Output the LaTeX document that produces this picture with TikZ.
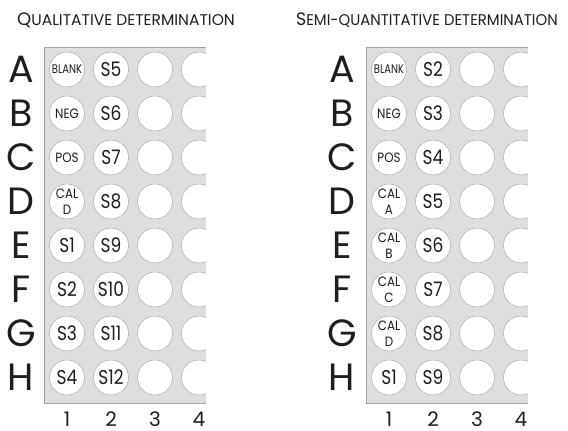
\documentclass[tikz,border=0pt]{standalone}
\usepackage{fontspec}
\setmainfont{Poppins}
\definecolor{plategray}{RGB}{221,222,224}
\definecolor{wellgray}{RGB}{170,170,170}
\definecolor{edgegray}{RGB}{165,165,165}
\definecolor{ink}{RGB}{30,30,30}
\newcommand\smt[1]{\scalebox{0.88}[1]{#1}}
\newcommand\blk[1]{{\fontsize{12.5}{16}\selectfont\scalebox{0.8}[1]{#1}}}
\newcommand\bgt[1]{{\fontsize{20}{20}\selectfont\scalebox{0.85}[1]{#1}}}
\newcommand\ttl[2]{{\fontsize{18}{18}\selectfont #1}{\fontsize{15.5}{15.5}\selectfont #2}}
\begin{document}
\begin{tikzpicture}[x=1pt,y=-1pt,
  well/.style={circle, draw=wellgray, line width=0.5pt, fill=white, minimum size=35pt,
    inner sep=0pt, align=center, text=ink, font=\fontsize{13.5}{16}\selectfont},
  rowlab/.style={font=\fontsize{38}{38}\selectfont, text=ink, anchor=center},
  collab/.style={font=\fontsize{20}{20}\selectfont, text=ink, anchor=center, inner sep=0pt},
  titlab/.style={anchor=base west, text=ink, inner sep=0pt},
  plateedge/.style={draw=edgegray, line width=0.6pt}
]
\useasboundingbox (0,0) rectangle (568,431);
% titles
\node[titlab] (t1) at (17,25) {\ttl{Q}{UALITATIVE DETERMINATION}};
\node[titlab] (t2) at (296,25) {\scalebox{0.96}[1]{\ttl{S}{EMI-QUANTITATIVE DETERMINATION}}};
% plates
\foreach \ox/\p in {0/l,322/r}{
  \fill[plategray] (44+\ox,47) rectangle (206+\ox,403);
}
% left plate wells
\begin{scope}
\clip (44,47) rectangle (206,403);
\foreach \r/\a/\b [count=\i from 0] in {A/\blk{BLANK}/\bgt{S5}, B/\smt{NEG}/\bgt{S6},
  C/\smt{POS}/\bgt{S7}, D/{\smt{CAL}\\\smt{D}}/\bgt{S8}, E/\bgt{S1}/\bgt{S9},
  F/\bgt{S2}/\bgt{S10}, G/\bgt{S3}/\bgt{S11}, H/\bgt{S4}/\bgt{S12}}{
  \node[well] (l\r1) at (67,69.5+44*\i) {\a};
  \node[well] (l\r2) at (111,69.5+44*\i) {\b};
  \node[well] (l\r3) at (155,69.5+44*\i) {};
  \node[well] (l\r4) at (199,69.5+44*\i) {};
}
\end{scope}
% right plate wells
\begin{scope}
\clip (366,47) rectangle (528,403);
\foreach \r/\a/\b [count=\i from 0] in {A/\blk{BLANK}/\bgt{S2}, B/\smt{NEG}/\bgt{S3},
  C/\smt{POS}/\bgt{S4}, D/{\smt{CAL}\\\smt{A}}/\bgt{S5}, E/{\smt{CAL}\\\smt{B}}/\bgt{S6},
  F/{\smt{CAL}\\\smt{C}}/\bgt{S7}, G/{\smt{CAL}\\\smt{D}}/\bgt{S8}, H/\bgt{S1}/\bgt{S9}}{
  \node[well] (r\r1) at (389,69.5+44*\i) {\a};
  \node[well] (r\r2) at (433,69.5+44*\i) {\b};
  \node[well] (r\r3) at (477,69.5+44*\i) {};
  \node[well] (r\r4) at (521,69.5+44*\i) {};
}
\end{scope}
% plate edges
\draw[plateedge] (206,47) -- (44,47) -- (44,403) -- (206,403);
\draw[plateedge] (528,47) -- (366,47) -- (366,403) -- (528,403);
% row labels
\foreach \r [count=\i from 0] in {A,B,C,D,E,F,G,H}{
  \node[rowlab] (lrow\r) at (21,69.5+44*\i) {\r};
  \node[rowlab] (rrow\r) at (342,69.5+44*\i) {\r};
}
% column labels
\foreach \c [count=\i from 0] in {1,2,3,4}{
  \node[collab] (lcol\c) at (67+44*\i,419) {\c};
  \node[collab] (rcol\c) at (389+44*\i,419) {\c};
}
\end{tikzpicture}
\end{document}
